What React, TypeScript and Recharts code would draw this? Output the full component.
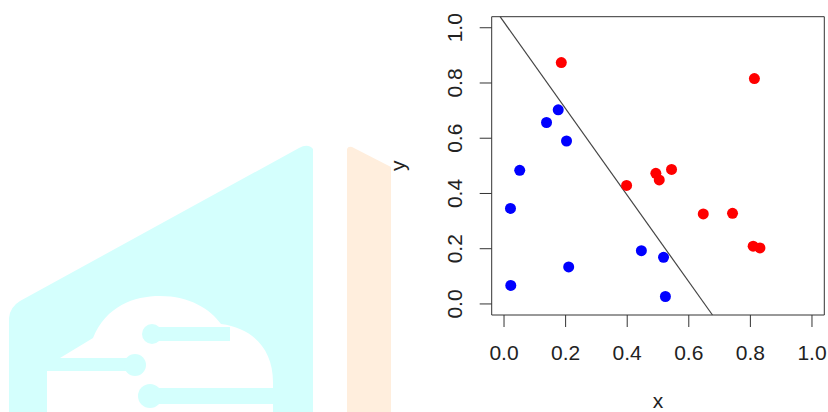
import React from 'react';
import { ScatterChart, Scatter, XAxis, YAxis, ReferenceLine, ReferenceArea } from 'recharts';

// points
const redX = [0.186, 0.813, 0.398, 0.493, 0.504, 0.544, 0.647, 0.742, 0.809, 0.831];
const redY = [0.874, 0.816, 0.429, 0.473, 0.449, 0.487, 0.326, 0.328, 0.209, 0.203];
const blueX = [0.176, 0.138, 0.203, 0.051, 0.021, 0.022, 0.21, 0.446, 0.518, 0.524];
const blueY = [0.703, 0.657, 0.59, 0.484, 0.346, 0.067, 0.134, 0.193, 0.169, 0.027];

// separating line y = intercept + slope * x
const lineIntercept = 1.02;
const lineSlope = -1.566;

const axisTicks = [0, 0.2, 0.4, 0.6, 0.8, 1.0];
const axisMin = -0.04;
const axisMax = 1.04;

const FONT = '"Liberation Sans", Arial, Helvetica, sans-serif';

const redPoints = redX.map((x, i) => ({ x, y: redY[i] }));
const bluePoints = blueX.map((x, i) => ({ x, y: blueY[i] }));

const lineSegment = [
  { x: (axisMax - lineIntercept) / lineSlope, y: axisMax },
  { x: (axisMin - lineIntercept) / lineSlope, y: axisMin },
];

const Dot = (color: string) => (p: any) => <circle cx={p.cx} cy={p.cy} r={5.5} fill={color} />;

const YTick = (props: any) => {
  const { x, y, payload } = props;
  return (
    <text x={x} y={y} transform={`rotate(-90 ${x} ${y})`} textAnchor="middle" fontSize={21} fill="#222" fontFamily={FONT}>
      {Number(payload.value).toFixed(1)}
    </text>
  );
};

const XLabel = (props: any) => {
  const vb = props.viewBox || { x: 491.7, y: 315, width: 332.6, height: 97 };
  return (
    <text x={vb.x + vb.width / 2} y={vb.y + 93} textAnchor="middle" fontSize={21} fill="#222" fontFamily={FONT}>
      x
    </text>
  );
};

const YLabel = (props: any) => {
  const vb = props.viewBox || { x: 0, y: 16.7, width: 491.7, height: 298.3 };
  const cx = vb.x + vb.width - 87;
  const cy = vb.y + vb.height / 2;
  return (
    <text x={cx} y={cy} transform={`rotate(-90 ${cx} ${cy})`} textAnchor="middle" fontSize={21} fill="#222" fontFamily={FONT}>
      y
    </text>
  );
};

const Watermark = () => (
  <svg width={828} height={412} style={{ position: 'absolute', left: 0, top: 0 }}>
    <path d="M9,412 L9,318 Q10,307 20,301 L299,148 Q308,143 313,149 L313,412 Z" fill="#d4fffd" />
    <path d="M47,412 L47,371 L60,371 L60,358 L93,338 C106,306 134,296 160,296 C190,296 210,309 221,324 C252,328 273,348 273,382 L273,412 Z" fill="#ffffff" />
    <rect x={150} y={327} width={80} height={14} fill="#d4fffd" />
    <circle cx={152} cy={334} r={10} fill="#d4fffd" />
    <rect x={55} y={358} width={80} height={13} fill="#d4fffd" />
    <circle cx={135} cy={365} r={11} fill="#d4fffd" />
    <rect x={148} y={388} width={130} height={16} fill="#d4fffd" />
    <circle cx={150} cy={396} r={12} fill="#d4fffd" />
    <path d="M347,412 L347,149 Q348,146 352,147 L391,167 L391,412 Z" fill="#ffeedd" />
  </svg>
);

export default function App() {
  return (
    <div style={{ position: 'absolute', left: 0, top: 0, width: 828, height: 412, background: '#fff' }}>
      <Watermark />
      <div style={{ position: 'absolute', left: 0, top: 0 }}>
        <ScatterChart width={828} height={412} margin={{ top: 16.7, right: 3.7, bottom: 0, left: 0 }}>
          <XAxis
            type="number"
            dataKey="x"
            domain={[axisMin, axisMax]}
            ticks={axisTicks}
            allowDataOverflow
            height={97}
            axisLine={false}
            tickSize={12}
            tickMargin={18}
            tickLine={{ stroke: '#333' }}
            tick={{ fontSize: 21, fill: '#222', fontFamily: FONT }}
            tickFormatter={(v: number) => v.toFixed(1)}
            label={XLabel}
          />
          <YAxis
            type="number"
            dataKey="y"
            domain={[axisMin, axisMax]}
            ticks={axisTicks}
            allowDataOverflow
            width={491.7}
            axisLine={false}
            tickSize={12}
            tickMargin={17.7}
            tickLine={{ stroke: '#333' }}
            tick={YTick}
            label={YLabel}
          />
          <ReferenceArea x1={axisMin} x2={axisMax} y1={axisMin} y2={axisMax} fill="none" fillOpacity={0} stroke="#333" strokeWidth={1} />
          <ReferenceLine segment={lineSegment} stroke="#444" strokeWidth={1.2} />
          <Scatter data={bluePoints} fill="#0000ff" shape={Dot('#0000ff')} isAnimationActive={false} />
          <Scatter data={redPoints} fill="#ff0000" shape={Dot('#ff0000')} isAnimationActive={false} />
        </ScatterChart>
      </div>
    </div>
  );
}
